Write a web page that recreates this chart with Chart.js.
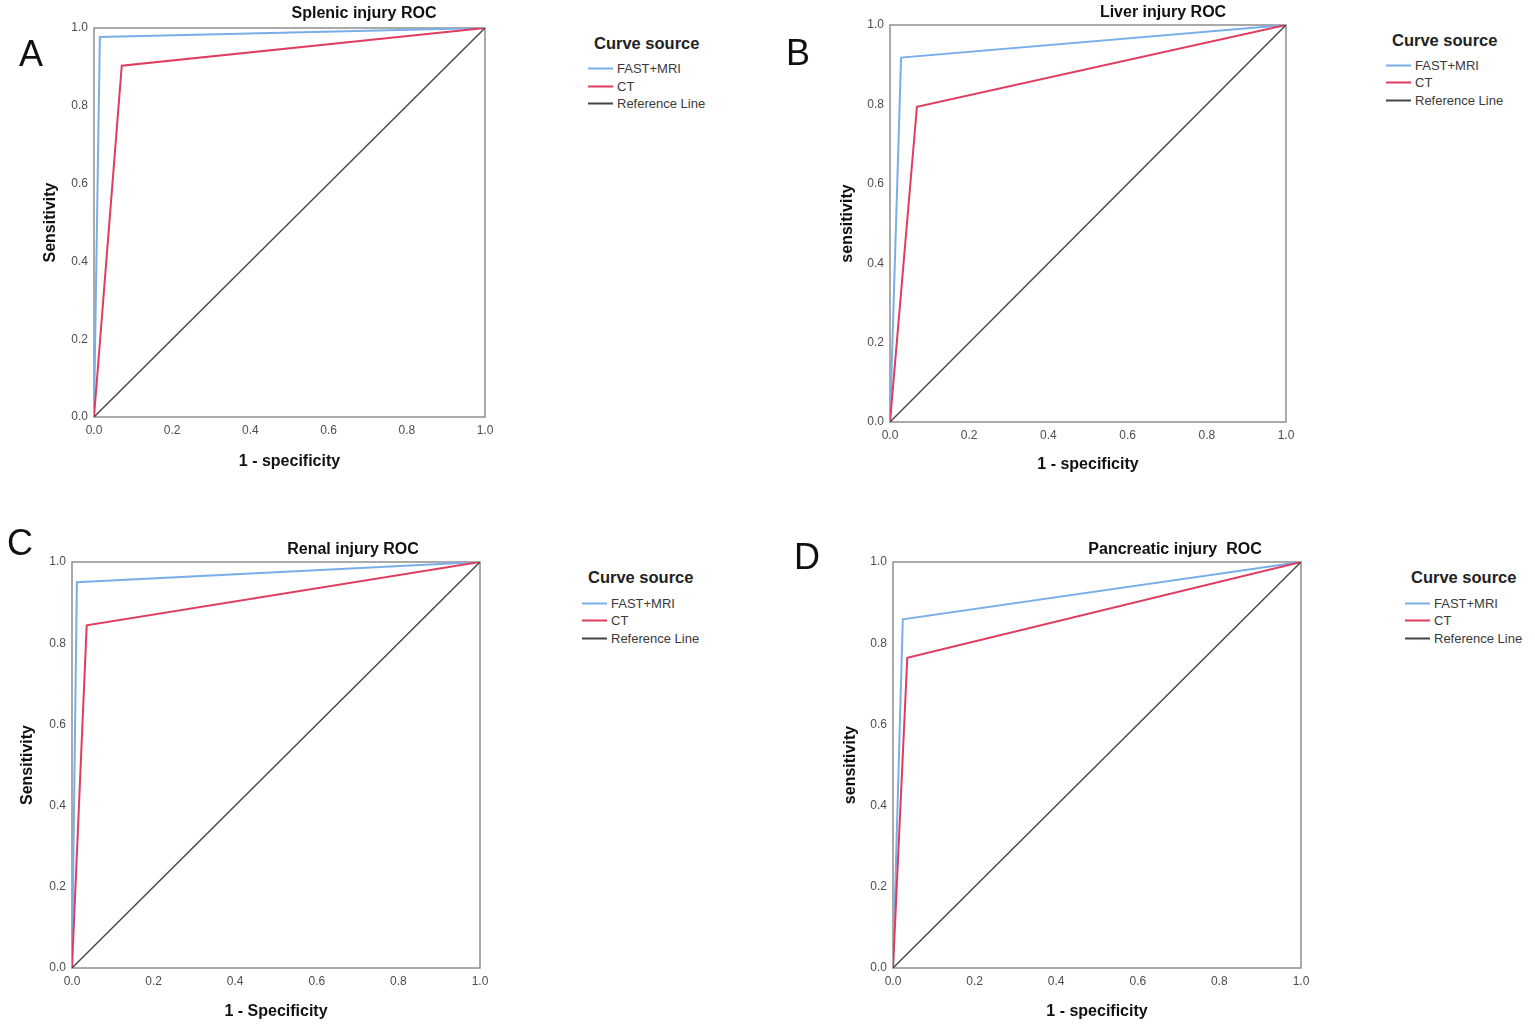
<!DOCTYPE html>
<html>
<head>
<meta charset="utf-8">
<script src="https://cdn.jsdelivr.net/npm/chart.js@4.4.1/dist/chart.umd.min.js"></script>
<style>
  html, body { margin:0; padding:0; background:#fff; width:1535px; height:1027px; overflow:hidden; font-family:"Liberation Sans", Arial, sans-serif; }
  .box { position:absolute; }
  .letter { position:absolute; font-size:36px; line-height:36px; color:#111; }
  .ptitle { position:absolute; font-size:16px; font-weight:bold; color:#111; white-space:pre; transform:translate(-50%,-50%); line-height:18px; }
  .lgtitle { position:absolute; font-size:16.5px; font-weight:bold; color:#222; line-height:18px; transform:translateY(-50%); white-space:nowrap; }
  .lgitem { position:absolute; font-size:13px; color:#3a3a3a; line-height:15px; transform:translateY(-50%); white-space:nowrap; }
  .sw { display:inline-block; width:25px; height:2px; vertical-align:middle; margin-right:4px; position:relative; top:-1px; }
</style>
</head>
<body>
<script>
// ---- data (x = 1 - specificity, y = sensitivity) ----
const seriesNames = ['FAST+MRI', 'CT', 'Reference Line'];
const panelTitles = ['Splenic injury ROC', 'Liver injury ROC', 'Renal injury ROC', 'Pancreatic injury  ROC'];
const yAxisTitles = ['Sensitivity', 'sensitivity', 'Sensitivity', 'sensitivity'];
const xAxisTitles = ['1 - specificity', '1 - specificity', '1 - Specificity', '1 - specificity'];
const tickValues = [0, 0.2, 0.4, 0.6, 0.8, 1.0];

const splenicFAST = [[0, 0], [0.015, 0.977], [1, 1]];
const splenicCT   = [[0, 0], [0.071, 0.903], [1, 1]];
const liverFAST   = [[0, 0], [0.028, 0.918], [1, 1]];
const liverCT     = [[0, 0], [0.068, 0.794], [1, 1]];
const renalFAST   = [[0, 0], [0.012, 0.950], [1, 1]];
const renalCT     = [[0, 0], [0.036, 0.844], [1, 1]];
const pancFAST    = [[0, 0], [0.024, 0.859], [1, 1]];
const pancCT      = [[0, 0], [0.035, 0.764], [1, 1]];
const referenceLine = [[0, 0], [1, 1]];

const colors = ['#7aaee8', '#e03c5e', '#454545'];

// ---- layout ----
const panels = [
  { fast: splenicFAST, ct: splenicCT, letter: 'A', lx: 19, ly: 36,
    box: {l:0, t:0, w:500, h:480}, yW: 94, padR: 15, padT: 28, xH: 63, yTitlePad: 41, xTitlePad: 9,
    title: {x:364, y:13}, lg: {x:588, ty:43, ys:[68,86,103]} },
  { fast: liverFAST, ct: liverCT, letter: 'B', lx: 786, ly: 35,
    box: {l:780, t:0, w:530, h:480}, yW: 110, padR: 24, padT: 25, xH: 58, yTitlePad: 58, xTitlePad: 6,
    title: {x:1163, y:12}, lg: {x:1386, ty:40, ys:[65,82,100]} },
  { fast: renalFAST, ct: renalCT, letter: 'C', lx: 7, ly: 525,
    box: {l:0, t:530, w:500, h:497}, yW: 72, padR: 20, padT: 32, xH: 59, yTitlePad: 18, xTitlePad: 6,
    title: {x:353, y:549}, lg: {x:582, ty:577, ys:[603,620,638]} },
  { fast: pancFAST, ct: pancCT, letter: 'D', lx: 794, ly: 539,
    box: {l:780, t:530, w:540, h:497}, yW: 113, padR: 19, padT: 32, xH: 59, yTitlePad: 61, xTitlePad: 6,
    title: {x:1175, y:549}, lg: {x:1405, ty:577, ys:[603,620,638]} }
];

Chart.defaults.font.family = '"Liberation Sans", Arial, sans-serif';
Chart.defaults.animation = false;

const framePlugin = {
  id: 'frame',
  beforeDatasetsDraw(chart) {
    const {ctx, chartArea: a} = chart;
    ctx.save();
    ctx.strokeStyle = '#8e8e8e';
    ctx.lineWidth = 1.5;
    ctx.strokeRect(a.left, a.top, a.right - a.left, a.bottom - a.top);
    ctx.restore();
  }
};

function toXY(arr) { return arr.map(p => ({x: p[0], y: p[1]})); }

function addDiv(cls, text, style) {
  const d = document.createElement('div');
  d.className = cls;
  if (text !== null) d.textContent = text;
  Object.assign(d.style, style);
  document.body.appendChild(d);
  return d;
}

panels.forEach((p, i) => {
  const wrap = addDiv('box', null, {left: p.box.l + 'px', top: p.box.t + 'px', width: p.box.w + 'px', height: p.box.h + 'px'});
  const cv = document.createElement('canvas');
  wrap.appendChild(cv);

  const tickOpts = {
    color: '#4d4d4d', font: {size: 12}, padding: 6, autoSkip: false,
    callback: v => Number(v).toFixed(1)
  };

  new Chart(cv, {
    type: 'scatter',
    data: {
      datasets: [
        { label: seriesNames[2], data: toXY(referenceLine), borderColor: colors[2], borderWidth: 1.4, showLine: true, pointRadius: 0 },
        { label: seriesNames[1], data: toXY(p.ct), borderColor: colors[1], borderWidth: 2, showLine: true, pointRadius: 0 },
        { label: seriesNames[0], data: toXY(p.fast), borderColor: colors[0], borderWidth: 2, showLine: true, pointRadius: 0 }
      ]
    },
    options: {
      responsive: true, maintainAspectRatio: false,
      layout: { padding: { left: 0, top: p.padT, right: p.padR, bottom: 0 } },
      plugins: { legend: { display: false }, tooltip: { enabled: false } },
      scales: {
        x: {
          type: 'linear', min: 0, max: 1,
          afterBuildTicks: s => { s.ticks = tickValues.map(v => ({value: v})); },
          afterFit: s => { s.height = p.xH; },
          grid: { display: false, drawTicks: false },
          border: { display: false },
          ticks: tickOpts,
          title: { display: true, text: xAxisTitles[i], color: '#111', font: {size: 16, weight: 'bold'}, padding: {top: 0, bottom: p.xTitlePad} }
        },
        y: {
          type: 'linear', min: 0, max: 1,
          afterBuildTicks: s => { s.ticks = tickValues.map(v => ({value: v})); },
          afterFit: s => { s.width = p.yW; },
          grid: { display: false, drawTicks: false },
          border: { display: false },
          ticks: tickOpts,
          title: { display: true, text: yAxisTitles[i], color: '#111', font: {size: 16, weight: 'bold'}, padding: {top: p.yTitlePad, bottom: 0} }
        }
      }
    },
    plugins: [framePlugin]
  });

  addDiv('letter', p.letter, {left: p.lx + 'px', top: p.ly + 'px'});
  addDiv('ptitle', panelTitles[i], {left: p.title.x + 'px', top: p.title.y + 'px'});
  addDiv('lgtitle', 'Curve source', {left: (p.lg.x + 6) + 'px', top: p.lg.ty + 'px'});
  [0, 1, 2].forEach((k, j) => {
    const it = addDiv('lgitem', null, {left: p.lg.x + 'px', top: p.lg.ys[j] + 'px'});
    const sw = document.createElement('span');
    sw.className = 'sw';
    sw.style.background = colors[k];
    it.appendChild(sw);
    it.appendChild(document.createTextNode(seriesNames[k]));
  });
});
</script>
</body>
</html>
